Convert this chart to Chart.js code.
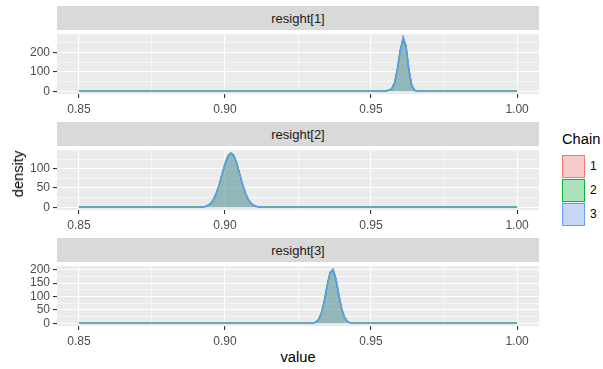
<html>
<head>
    <script src="https://cdn.jsdelivr.net/npm/chart.js@4.4.0/dist/chart.umd.min.js" type="text/javascript"></script>
    <style>
        body {
            margin: 0;
            background: #ffffff;
            font-family: "Liberation Sans", Arial, sans-serif;
        }

        #wrap {
            position: relative;
            width: 603px;
            height: 369px;
            overflow: hidden;
        }

        canvas {
            position: absolute;
            left: 0;
        }

        .strip {
            position: absolute;
            left: 57px;
            width: 482px;
            height: 24px;
            background: #D9D9D9;
            color: #1A1A1A;
            font-size: 13px;
            display: flex;
            align-items: center;
            justify-content: center;
            z-index: 2;
        }

        .axtitle {
            position: absolute;
            color: #000000;
            font-size: 14.7px;
            white-space: nowrap;
        }

        .key {
            position: absolute;
            left: 562px;
            width: 21px;
            height: 21px;
        }

        .keylab {
            position: absolute;
            left: 590px;
            font-size: 12px;
            color: #000000;
        }
    </style>
</head>
<body>
    <div id="wrap"></div>
    <script>
        // facet titles and chains
        var panelNames = ['resight[1]', 'resight[2]', 'resight[3]'];
        var chainNames = ['1', '2', '3'];
        var chainColors = ['#F8766D', '#00BA38', '#619CFF'];

        // tick labels
        var xTickLabels = [0.85, 0.90, 0.95, 1.00];
        var yTicks1 = [0, 100, 200];
        var yTicks2 = [0, 50, 100];
        var yTicks3 = [0, 50, 100, 150, 200];

        // resight[1]
        var x1 = [0.85, 0.953, 0.954, 0.955, 0.956, 0.957, 0.958, 0.959, 0.960, 0.961, 0.962, 0.963, 0.964, 0.965, 0.966, 0.967, 1.00];
        var r1Chain1 = [0, 0.3, 1, 2, 4, 10, 38, 109, 211, 278, 232, 107, 27, 4, 0.3, 0, 0];
        var r1Chain2 = [0, 0.2, 0.8, 2.5, 5, 12, 42, 114, 214, 271, 226, 103, 25, 3.5, 0.3, 0, 0];
        var r1Chain3 = [0, 0.4, 1.2, 2, 3.5, 9, 35, 104, 206, 281, 236, 112, 30, 4.5, 0.4, 0, 0];

        // resight[2]
        var x2 = [0.85, 0.890, 0.891, 0.892, 0.893, 0.894, 0.895, 0.896, 0.897, 0.898, 0.899, 0.900, 0.901, 0.902,
            0.903, 0.904, 0.905, 0.906, 0.907, 0.908, 0.909, 0.910, 0.911, 0.912, 0.913, 0.914, 1.00];
        var r2Chain1 = [0, 0, 0.2, 0.5, 1.5, 3.8, 9, 19, 35, 58, 86, 113, 133, 140, 134, 114, 87, 60, 37, 20, 10, 4.5, 1.8, 0.6, 0.2, 0, 0];
        var r2Chain2 = [0, 0, 0.1, 0.6, 1.7, 4.2, 9.6, 19.8, 36, 58, 85, 111, 132, 141, 135, 116, 88, 60, 36, 19, 9.5, 4.2, 1.7, 0.6, 0.2, 0, 0];
        var r2Chain3 = [0, 0, 0.2, 0.4, 1.4, 3.6, 8.8, 18.5, 34, 57, 86, 114, 134, 140, 133, 113, 86, 59, 37, 20.5, 10.2, 4.6, 1.9, 0.7, 0.2, 0, 0];

        // resight[3]
        var x3 = [0.85, 0.929, 0.930, 0.931, 0.932, 0.933, 0.934, 0.935, 0.936, 0.937, 0.938, 0.939, 0.940, 0.941, 0.942, 0.943, 0.944, 0.945, 1.00];
        var r3Chain1 = [0, 0, 0.7, 3.5, 13, 37, 82, 141, 190, 201, 165, 105, 52, 20, 6, 1.4, 0.3, 0, 0];
        var r3Chain2 = [0, 0, 0.6, 3.8, 14, 39, 85, 144, 191, 198, 161, 102, 51, 20.5, 6.3, 1.5, 0.3, 0, 0];
        var r3Chain3 = [0, 0, 0.8, 3.2, 12, 35, 79, 138, 189, 203, 168, 108, 54, 21, 6.2, 1.3, 0.2, 0, 0];

        var FONT = '"Liberation Sans", Arial, sans-serif';
        var wrap = document.getElementById('wrap');

        function rgba(hex, a) {
            var n = parseInt(hex.slice(1), 16);
            return 'rgba(' + (n >> 16) + ',' + ((n >> 8) & 255) + ',' + (n & 255) + ',' + a + ')';
        }

        function round6(v) {
            return Math.round(v * 1e6) / 1e6;
        }

        // majors plus ggplot-style minor breaks halfway between them
        function withMinor(major, lo, hi) {
            var step = major[1] - major[0];
            var out = major.slice();
            for (var i = -1; i < major.length; i++) {
                var m = round6(major[0] + step * (i + 0.5));
                if (m >= lo && m <= hi) out.push(m);
            }
            return out.sort(function (a, b) { return a - b; });
        }

        function isMajor(major, v) {
            return major.some(function (m) { return Math.abs(m - v) < 1e-9; });
        }

        var panelBg = {
            id: 'panelBg',
            beforeDraw: function (chart) {
                var a = chart.chartArea, c = chart.ctx;
                c.save();
                c.fillStyle = '#EBEBEB';
                c.fillRect(a.left, a.top, a.right - a.left, a.bottom - a.top);
                c.restore();
            }
        };

        function makePanel(k, xs, chains, yTicks, plotTop) {
            var plotH = 64;
            var strip = document.createElement('div');
            strip.className = 'strip';
            strip.style.top = (plotTop - 24) + 'px';
            strip.textContent = panelNames[k];
            wrap.appendChild(strip);

            var canvas = document.createElement('canvas');
            canvas.width = 545;
            canvas.height = 6 + plotH + 20;
            canvas.style.top = (plotTop - 6) + 'px';
            wrap.appendChild(canvas);

            var xLo = Math.min.apply(null, xs), xHi = Math.max.apply(null, xs);
            var xMin = xLo - 0.05 * (xHi - xLo), xMax = xHi + 0.05 * (xHi - xLo);
            var yTop = 0;
            chains.forEach(function (c) { yTop = Math.max(yTop, Math.max.apply(null, c)); });
            var yMin = -0.05 * yTop, yMax = 1.05 * yTop;

            var xAll = withMinor(xTickLabels, xMin, xMax);
            var yAll = withMinor(yTicks, yMin, yMax);

            var datasets = chains.map(function (vals, j) {
                return {
                    label: chainNames[j],
                    data: xs.map(function (x, i) { return { x: x, y: vals[i] }; }),
                    borderColor: chainColors[j],
                    backgroundColor: rgba(chainColors[j], 0.3),
                    borderWidth: 1.4,
                    pointRadius: 0,
                    fill: 'origin',
                    tension: 0,
                    order: chains.length - j
                };
            });

            function axis(major, all, extra) {
                var o = {
                    type: 'linear',
                    border: { display: false },
                    afterBuildTicks: function (s) {
                        s.ticks = all.map(function (v) { return { value: v }; });
                    },
                    grid: {
                        color: '#FFFFFF',
                        lineWidth: function (c) { return c.tick && isMajor(major, c.tick.value) ? 1.1 : 0.55; },
                        tickColor: function (c) { return c.tick && isMajor(major, c.tick.value) ? '#333333' : 'rgba(0,0,0,0)'; },
                        tickWidth: 1.1,
                        tickLength: 4
                    },
                    ticks: {
                        autoSkip: false,
                        maxRotation: 0,
                        minRotation: 0,
                        color: '#4D4D4D',
                        font: { size: 12, family: FONT },
                        callback: function (v) {
                            if (!isMajor(major, v)) return '';
                            return extra.fmt(v);
                        }
                    }
                };
                for (var key in extra.opts) o[key] = extra.opts[key];
                return o;
            }

            var xAxis = axis(xTickLabels, xAll, {
                fmt: function (v) { return v.toFixed(2); },
                opts: { min: xMin, max: xMax, afterFit: function (s) { s.height = 20; } }
            });
            xAxis.ticks.padding = 4;
            var yAxis = axis(yTicks, yAll, {
                fmt: function (v) { return String(v); },
                opts: { min: yMin, max: yMax, afterFit: function (s) { s.width = 57; } }
            });
            yAxis.ticks.padding = 3;

            new Chart(canvas.getContext('2d'), {
                type: 'line',
                data: { datasets: datasets },
                options: {
                    responsive: false,
                    animation: false,
                    events: [],
                    layout: { padding: { top: 6, right: 6, left: 0, bottom: 0 } },
                    plugins: {
                        legend: { display: false },
                        tooltip: { enabled: false }
                    },
                    scales: { x: xAxis, y: yAxis }
                },
                plugins: [panelBg]
            });
        }

        makePanel(0, x1, [r1Chain1, r1Chain2, r1Chain3], yTicks1, 30);
        makePanel(1, x2, [r2Chain1, r2Chain2, r2Chain3], yTicks2, 146);
        makePanel(2, x3, [r3Chain1, r3Chain2, r3Chain3], yTicks3, 262);

        // axis titles
        var xt = document.createElement('div');
        xt.className = 'axtitle';
        xt.textContent = 'value';
        xt.style.left = '298px';
        xt.style.top = '349px';
        xt.style.transform = 'translateX(-50%)';
        wrap.appendChild(xt);

        var yt = document.createElement('div');
        yt.className = 'axtitle';
        yt.textContent = 'density';
        yt.style.left = '18px';
        yt.style.top = '174px';
        yt.style.transform = 'translate(-50%, -50%) rotate(-90deg)';
        wrap.appendChild(yt);

        // legend
        var lt = document.createElement('div');
        lt.className = 'axtitle';
        lt.textContent = 'Chain';
        lt.style.left = '562px';
        lt.style.top = '131px';
        wrap.appendChild(lt);

        chainNames.forEach(function (name, j) {
            var top = 155 + j * 24;
            var key = document.createElement('div');
            key.className = 'key';
            key.style.top = top + 'px';
            key.style.background = 'linear-gradient(' + rgba(chainColors[j], 0.3) + ',' + rgba(chainColors[j], 0.3) + '), #F2F2F2';
            key.style.border = '1px solid ' + chainColors[j];
            wrap.appendChild(key);

            var lab = document.createElement('div');
            lab.className = 'keylab';
            lab.textContent = name;
            lab.style.top = (top + 4) + 'px';
            wrap.appendChild(lab);
        });
    </script>
</body>
</html>
